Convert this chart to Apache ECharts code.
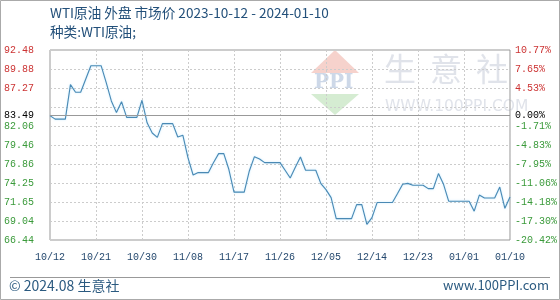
<!DOCTYPE html>
<html>
<head>
<meta charset="utf-8">
<script src="https://cdn.jsdelivr.net/npm/echarts@6/dist/echarts.min.js"></script>
<style>
html,body{margin:0;padding:0;background:#fff;}
#main{width:560px;height:300px;}
</style>
</head>
<body>
<div id="main"></div>
<script>
const titleText = 'WTI原油 外盘 市场价 2023-10-12 - 2024-01-10';
const subtitleText = '种类:WTI原油;';
const footerLeft = '© 2024.08 生意社';
const footerRight = 'www.100PPI.com';

const categories = [
 '10/12','10/13','10/14','10/15','10/16','10/17','10/18','10/19','10/20','10/21',
 '10/22','10/23','10/24','10/25','10/26','10/27','10/28','10/29','10/30','10/31',
 '11/01','11/02','11/03','11/04','11/05','11/06','11/07','11/08','11/09','11/10',
 '11/11','11/12','11/13','11/14','11/15','11/16','11/17','11/18','11/19','11/20',
 '11/21','11/22','11/23','11/24','11/25','11/26','11/27','11/28','11/29','11/30',
 '12/01','12/02','12/03','12/04','12/05','12/06','12/07','12/08','12/09','12/10',
 '12/11','12/12','12/13','12/14','12/15','12/16','12/17','12/18','12/19','12/20',
 '12/21','12/22','12/23','12/24','12/25','12/26','12/27','12/28','12/29','12/30',
 '12/31','01/01','01/02','01/03','01/04','01/05','01/06','01/07','01/08','01/09',
 '01/10'
];

const prices = [
 83.49, 83.0, 83.0, 83.0, 87.74, 86.68, 86.68, 88.5, 90.33, 90.33,
 90.33, 88.0, 85.5, 83.9, 85.4, 83.25, 83.25, 83.25, 85.59, 82.5,
 81.1, 80.5, 82.39, 82.39, 82.39, 80.56, 80.79, 77.7, 75.35, 75.68,
 75.68, 75.68, 77.05, 78.28, 78.28, 76.1, 73.0, 73.0, 73.0, 75.9,
 77.86, 77.55, 77.05, 77.05, 77.05, 77.05, 76.0, 74.94, 76.4, 77.82,
 75.99, 75.99, 75.99, 74.17, 73.35, 72.25, 69.37, 69.37, 69.37, 69.37,
 71.29, 71.29, 68.59, 69.51, 71.57, 71.57, 71.57, 71.57, 72.8, 74.07,
 74.2, 73.94, 73.94, 73.94, 73.48, 73.48, 75.54, 74.07, 71.76, 71.76,
 71.76, 71.76, 71.76, 70.39, 72.6, 72.2, 72.2, 72.2, 73.7, 70.78,
 72.33
];

const baseValue = 83.49;
const baseLabelLeft = '83.49';
const baseLabelRight = '0.00%';

const yMin = 66.44;
const yMax = 92.48;
const yStep = 2.604;
const leftTickLabels = ['66.44','69.04','71.65','74.25','76.86','79.46','82.06','','87.27','89.88','92.48'];
const rightTickLabels = ['-20.42%','-17.30%','-14.18%','-11.06%','-7.95%','-4.83%','-1.71%','','4.53%','7.65%','10.77%'];

const RED = '#cc3333', GREEN = '#3a9a3a', BLACK = '#000';
const MONO = 'Liberation Mono';

function tickIndex(v){ return Math.round((parseFloat(v) - yMin) / yStep); }
function tickColor(v){ return parseFloat(v) > baseValue ? RED : GREEN; }

const chart = echarts.init(document.getElementById('main'), null, {renderer:'canvas'});
chart.setOption({
  animation: false,
  backgroundColor: '#fff',
  grid: {left: 50, right: 50, top: 50, bottom: 60, show: true, borderColor: '#999', borderWidth: 1, backgroundColor: 'transparent'},
  graphic: [
    {type:'rect', shape:{x:0.5,y:0.5,width:559,height:299}, style:{fill:'none', stroke:'#aaa', lineWidth:1}, z:0, silent:true},
    {type:'line', shape:{x1:10,y1:277.5,x2:550,y2:277.5}, style:{stroke:'#999', lineWidth:1}, silent:true},
    {type:'text', left:50, top:6, style:{text:titleText, font:'13.6px "Noto Sans CJK SC"', fill:'#23507a'}, silent:true},
    {type:'text', left:50, top:25, style:{text:subtitleText, font:'13.6px "Noto Sans CJK SC"', fill:'#23507a'}, silent:true},
    {type:'text', left:9, top:279, style:{text:footerLeft, font:'14px "Noto Sans CJK SC"', fill:'#2b5a80'}, silent:true},
    {type:'text', right:11, top:279, style:{text:footerRight, font:'13px "Noto Sans CJK SC"', fill:'#2b5a80'}, silent:true},
    // watermark logo
    {type:'polygon', shape:{points:[[311,73],[359,73],[335,50]]}, style:{fill:'#f6d2cc'}, z:-1, silent:true},
    {type:'text', x:314, y:73, style:{text:'PPI', font:'bold 20px "DejaVu Serif"', fill:'#cdd8e8'}, z:-1, silent:true},
    {type:'polygon', shape:{points:[[311,94],[359,94],[335,115]]}, style:{fill:'#d5ecd2'}, z:-1, silent:true},
    {type:'text', x:384, y:53, style:{text:'生', font:'32px "Noto Sans CJK SC"', fill:'#e0e3ea'}, z:-1, silent:true},
    {type:'text', x:430, y:53, style:{text:'意', font:'32px "Noto Sans CJK SC"', fill:'#e0e3ea'}, z:-1, silent:true},
    {type:'text', x:476, y:53, style:{text:'社', font:'32px "Noto Sans CJK SC"', fill:'#e0e3ea'}, z:-1, silent:true},
    {type:'text', x:385, y:99, style:{text:'WWW.100PPI.COM', font:'15.5px "DejaVu Sans"', fill:'#e0e3ea'}, z:-1, silent:true}
  ],
  xAxis: {
    type: 'category',
    data: categories,
    boundaryGap: false,
    axisLine: {show: false},
    axisTick: {show: false},
    axisLabel: {interval: 8, margin: 12, color: '#24486e', fontFamily: MONO, fontSize: 10},
    splitLine: {show: true, interval: 8, lineStyle: {color: '#cccccc', type: [2,2], width: 1}}
  },
  yAxis: [
    {
      type: 'value', min: yMin, max: yMax, interval: yStep, position: 'left',
      axisLine: {show: false}, axisTick: {show: false},
      axisLabel: {margin: 16, fontFamily: MONO, fontSize: 10,
        formatter: v => leftTickLabels[tickIndex(v)] || '',
        color: v => tickColor(v)},
      splitLine: {show: true, lineStyle: {color: '#cccccc', type: [2,2], width: 1}}
    },
    {
      type: 'value', min: yMin, max: yMax, interval: yStep, position: 'right',
      axisLine: {show: false}, axisTick: {show: false},
      axisLabel: {margin: 5, fontFamily: MONO, fontSize: 10,
        formatter: v => rightTickLabels[tickIndex(v)] || '',
        color: v => tickColor(v)},
      splitLine: {show: false}
    }
  ],
  series: [{
    type: 'line',
    data: prices,
    yAxisIndex: 0,
    symbol: 'none',
    lineStyle: {color: '#4a89b4', width: 1.1, shadowColor: 'rgba(120,210,255,0.5)', shadowBlur: 2},
    z: 3,
    markLine: {
      silent: true, symbol: 'none', animation: false,
      lineStyle: {color: '#999', type: 'solid', width: 1},
      data: [
        {yAxis: baseValue, label: {show: true, position: 'start', distance: 16, formatter: baseLabelLeft, color: BLACK, fontFamily: MONO, fontSize: 10}},
        {yAxis: baseValue, label: {show: true, position: 'end', distance: 5, formatter: baseLabelRight, color: BLACK, fontFamily: MONO, fontSize: 10}}
      ]
    }
  }]
});
</script>
</body>
</html>
